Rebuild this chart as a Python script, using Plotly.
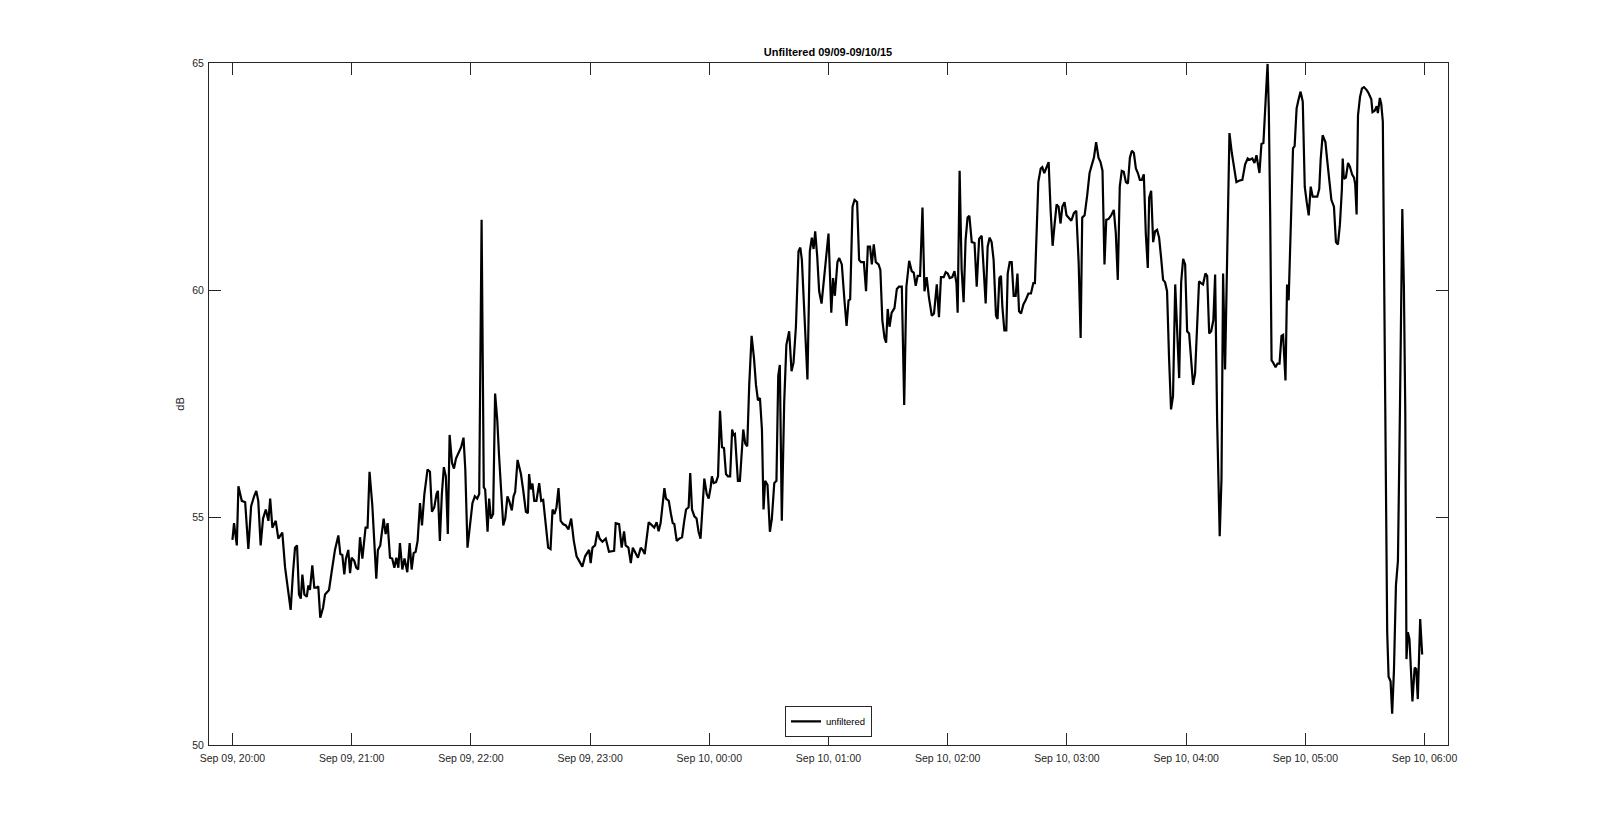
import pandas as pd
import plotly.graph_objects as go

start_time = "2015-09-09 20:00"
title_text = "Unfiltered 09/09-09/10/15"
series_name = "unfiltered"
y_ticks = [50, 55, 60, 65]

# minutes after Sep 09, 20:00
minutes = [
    0, 0.8, 2.2, 3, 4.7, 6.4, 8, 9.4, 10.9, 12, 13, 14.2, 15.4, 16.8, 18.1, 19, 20.1, 21.8, 23.1, 25.1,
    26.5, 28.2, 29.3, 30.5, 31.5, 32.5, 33.5, 34.4, 35.2, 36.2, 37.4, 38.2, 39, 40.2, 41.2, 42.4, 43.2,
    44.2, 45.6, 46.6, 48.6, 49.9, 51.6, 53.3, 54.3, 55.3, 56.3, 57.1, 58.3, 59.2, 60, 61.3, 62.3, 63.3,
    64.2, 65.4, 66.4, 67, 68, 69, 70.4, 71.4, 72.4, 73.2, 74.4, 76.1, 77.1, 78.1, 79.3, 80.4, 81.5, 82.5,
    83.5, 84.3, 85.5, 86.6, 88, 89.2, 90.2, 91.2, 92.2,
    93.2, 94.4, 95.4, 96.6, 98.2, 99.4, 100.4, 101.6, 102.7, 103.4, 104.4, 105.4, 106.4, 107.4, 108.4,
    109.3, 110.5, 111.5, 112.5, 114.1, 115.1, 116.3, 117.2, 118.3, 119.5, 120.8, 122, 123.2, 124.2,
    125.4, 126.5, 127.2, 128.4, 129.2, 130.1, 131.2, 132.2, 133.3, 134.2, 135.1, 136.3, 137.3, 138.4,
    139.3, 140.6, 141.5, 142.3, 143.5, 145.2, 146.3, 147.7, 148.7, 149.3, 150.2, 151, 151.9, 153, 154.4,
    155.4, 156.4, 157.7, 158.9, 160.1, 161.1, 162.1, 163.1, 164.1, 165.2, 166.4, 167.8, 169.1, 170.5,
    171.8, 173.2, 174.5, 176.1, 177.5, 178.7, 179.5, 180.3, 181.2, 182.5, 183.7, 184.8, 186.2, 187.9,
    189.5, 192.1, 192.9, 194.6, 195.9, 197.1, 197.9, 199.3, 200.5,
    201.5, 202.9, 204.1, 205.5, 206.5, 207.5, 209.5, 211.2, 212.3, 213.5, 214.5, 215.5, 217.4, 218.2,
    219.6, 220.7, 221.6, 222.4, 223.6, 224.9, 226.3, 227.4, 228.3, 229.6, 230.4, 231.3, 232.5, 233.6,
    234.6, 235.6, 237.5, 238.7, 239.7, 240.7, 241.3, 242.2, 243.4, 244.4, 245.4, 246.4, 247.4, 248.4,
    249.4, 250.5, 251.5, 252.2, 252.9, 254.4, 255.4, 257.1, 258.1, 259.1, 260.1, 261.3, 262.5, 263.5,
    264.5, 265.5, 266.5, 267.3, 268.1, 269.3, 270.5, 271.5, 272.7, 273.8, 274.7, 275.5, 276.5, 277.7,
    278.8, 280.2, 281.4, 282.4, 283.6, 284.9, 285.8, 286.6, 287.8, 288.6, 289.4, 290.6, 291.6, 292.5,
    293.3, 294.3, 295.3, 296.5, 297.3, 298.7, 300, 301.4, 302.3, 303.2, 304.5, 305.4,
    306.7, 308.1, 309.1, 310.1, 310.9, 312.1, 313.1, 314.4, 315.4, 316.4, 317.8, 318.9, 319.8, 320.9,
    321.8, 322.8, 323.8, 325.2, 326.1, 327.1, 328.2, 329, 329.8, 330.7, 331.8, 333.2, 334.4, 335.5,
    336.9, 338.1, 339.2, 340.6, 341.9, 342.9, 343.9, 344.9, 346.1, 347.3, 348.3, 349.4, 350.6, 352,
    353.1, 354.5, 355.6, 356.6, 358, 359, 360, 361, 362.3, 363.4, 364.4, 365, 366, 367, 368, 369, 370,
    370.9, 372.1, 373.5, 374.6, 375.8, 377.1, 378.1, 379.1, 380.1, 381.1, 382.1, 383.1, 384.3, 385.1,
    386, 386.8, 387.5, 388.5, 389.5, 390.2, 391.2, 392.2, 393.2, 394.2, 395.1, 395.9, 396.9, 398.1,
    399.2, 400.6, 401.9, 403.1, 403.9, 404.7, 405.6, 406.8, 407.6, 408.6, 409.8, 410.8,
    411.8, 412.8, 413.8, 414.8, 415.8, 416.8, 417.7, 418.8, 419.8, 420.8, 422.2, 423.5, 424.7, 425.9,
    426.9, 427.7, 428.9, 430.2, 431.4, 432.6, 433.6, 434.7, 435.9, 436.9, 437.9, 438.9, 439.8, 441,
    442.3, 443.6, 444.6, 445.6, 446.6, 447.6, 448.6, 449.7, 450.7, 451.7, 452.7, 453.7, 454.7, 455.7,
    456.7, 457.7, 458.7, 459.7, 460.7, 461.4, 462.4, 463.4, 464.4, 465.4, 466.4, 467.4, 468.4, 469.4,
    470.4, 471.4, 472.4, 473.4, 474.5, 475.5, 476.5, 477.5, 478.5, 479.5, 480.5, 481.5, 482.5, 483.5,
    484.5, 485.5, 486.5, 487.5, 488.5, 489.7, 490.6, 491.6, 492.6, 493.7, 494.6, 495.6, 496.3, 496.9,
    497.8, 498.6, 499.6, 500.6, 501.8, 503, 504, 505.3, 506.6, 508.3, 509.7, 511, 512, 513.3, 514.4,
    515.4,
    516.9, 517.9, 518.9, 519.6, 520.5, 521, 521.6, 522.3, 523, 523.8, 525, 526, 527, 528, 528.8, 530,
    530.8, 531.6, 532.6, 533.8, 534.6, 535.6, 536.6, 537.6, 538.7, 539.7, 540.7, 541.7, 542.7, 543.7,
    544.7, 546, 547, 547.7, 548.7, 550.1, 551.1, 552.1, 553.1, 554.4, 555.4, 556.4, 557.4, 558.4,
    558.8, 559.4, 560.4, 561.5, 562.5, 563.5, 564.5, 565.1, 565.8, 566.5, 567.5, 568.5, 569.5, 570.8,
    571.8, 573.2, 573.8, 574.9, 575.9, 576.5, 577.5, 578.2, 579, 580.2, 581.2, 581.9, 582.9, 583.7,
    584.6, 585.6, 586.6, 587.6, 588.8, 589.6, 590.3, 590.9, 591.6, 592.4, 593.3, 593.9, 595, 595.8,
    596.6, 597.8, 598.8,
]

db = [
    54.51, 54.88, 54.39, 55.69, 55.37, 55.34, 54.31, 55.25, 55.47, 55.59, 55.37, 54.39, 54.98, 55.18,
    54.93, 55.42, 54.78, 54.93, 54.54, 54.67, 53.90, 53.26, 52.97, 53.80, 54.34, 54.39, 53.31, 53.22,
    53.75, 53.31, 53.26, 53.51, 53.41, 53.95, 53.46, 53.46, 53.49, 52.80, 53.02, 53.31, 53.41, 53.80,
    54.29, 54.61, 54.20, 54.18, 53.75, 54.10, 54.29, 53.78, 54.12, 54.05, 53.90, 53.86, 54.57, 54.10,
    54.54, 54.78, 54.78, 56.01, 55.27, 54.39, 53.66, 54.29, 54.39, 54.98, 54.64, 54.88, 54.12, 54.10,
    53.90, 54.12, 53.90, 54.44, 53.86, 54.10, 53.80, 54.44, 53.86, 54.22, 54.25,
    54.49, 55.32, 54.83, 55.52, 56.06, 56.01, 55.13, 55.23, 55.52, 55.59, 54.49, 55.52, 56.11, 55.91,
    54.64, 56.82, 56.21, 56.08, 56.30, 56.45, 56.55, 56.76, 56.06, 54.34, 54.88, 55.32, 55.47, 55.42,
    55.52, 61.55, 55.67, 55.62, 54.69, 55.42, 54.98, 55.08, 57.73, 57.14, 56.35, 55.67, 54.83, 54.98,
    55.47, 55.37, 55.16, 55.47, 55.57, 56.27, 55.96, 55.62, 55.13, 55.10, 55.96, 55.62, 55.75, 55.37,
    55.37, 55.76, 55.37, 55.39, 54.88, 54.34, 54.31, 55.18, 55.08, 55.23, 55.65, 54.93, 54.86, 54.83,
    54.74, 54.98, 54.49, 54.15, 54.05, 53.92, 54.15, 54.22, 54.29, 54.00, 54.34, 54.39, 54.70, 54.54,
    54.47, 54.54, 54.25, 54.27, 54.88, 54.86, 54.34, 54.70, 54.39, 54.34, 54.00,
    54.34, 54.20, 54.12, 54.34, 54.29, 54.20, 54.90, 54.83, 54.78, 54.90, 54.70, 54.88, 55.65, 55.42,
    55.37, 55.08, 54.88, 54.86, 54.49, 54.54, 54.57, 54.93, 55.18, 55.23, 55.98, 55.18, 55.03, 54.98,
    54.69, 54.54, 55.86, 55.52, 55.42, 55.67, 55.91, 55.76, 55.78, 55.91, 57.35, 56.55, 56.53, 55.96,
    55.91, 55.91, 56.94, 56.82, 56.84, 55.81, 55.81, 56.94, 56.63, 56.57, 57.92, 59.00, 58.51, 57.92,
    57.58, 57.63, 56.94, 55.18, 55.81, 55.72, 54.69, 54.98, 55.76, 55.81, 58.12, 58.36, 54.93, 57.53,
    58.80, 59.10, 58.22, 58.41, 59.20, 60.86, 60.94, 60.67, 59.39, 58.90, 58.04, 60.86, 61.16, 60.91,
    61.30, 60.76, 59.98, 59.71, 60.08, 60.59, 61.25, 59.51, 60.27, 59.88, 60.62, 60.71,
    60.57, 59.74, 59.22, 59.78, 59.80, 61.84, 61.99, 61.94, 60.67, 60.62, 60.62, 59.98, 60.96, 60.96,
    60.57, 61.01, 60.62, 60.57, 60.45, 59.34, 58.95, 58.85, 59.59, 59.20, 59.51, 59.61, 60.03, 60.08,
    60.08, 57.48, 60.08, 60.65, 60.42, 60.39, 60.10, 60.32, 60.32, 61.82, 59.98, 60.29, 59.83, 59.44,
    59.49, 60.13, 59.41, 60.29, 60.29, 60.40, 60.37, 60.27, 60.29, 60.42, 60.16, 59.51, 62.63, 60.47,
    59.74, 61.11, 61.60, 61.64, 61.06, 61.04, 60.08, 61.13, 61.20, 60.47, 59.71, 60.96, 61.16, 61.06,
    60.67, 59.44, 59.37, 60.27, 60.32, 59.64, 59.12, 59.12, 60.37, 60.62, 60.62, 59.88, 59.88, 60.37,
    59.54, 59.49, 59.69, 59.78, 59.93, 59.93, 60.16, 60.16, 61.25, 62.38, 62.68, 62.71, 62.58, 62.73,
    62.82,
    61.75, 60.98, 61.45, 61.89, 61.84, 61.47, 61.84, 61.94, 61.65, 61.60, 61.53, 61.70, 61.75, 60.62,
    58.95, 61.60, 61.65, 62.09, 62.58, 62.77, 62.92, 63.26, 62.92, 62.82, 62.63, 60.57, 61.55, 61.57,
    61.65, 61.77, 61.26, 60.23, 62.28, 62.63, 62.61, 62.38, 62.35, 62.92, 63.07, 63.02, 62.68, 62.58,
    62.43, 62.43, 62.55, 61.25, 60.49, 62.04, 62.19, 61.06, 61.30, 61.33, 61.16, 60.72, 60.23, 60.18,
    59.98, 58.51, 57.38, 57.67, 60.13, 59.10, 58.07, 60.18, 60.69, 60.57, 59.10, 59.05, 58.51, 57.92,
    58.17, 59.29, 60.20, 60.16, 60.13, 60.37, 60.32, 59.05, 59.10, 59.34, 60.35, 57.14, 55.37, 54.59,
    55.86, 60.37, 58.26, 60.37, 63.46, 63.02, 62.77, 62.38, 62.41, 62.43, 62.77, 62.90, 62.87, 62.90,
    62.80, 62.97,
    62.58, 63.22, 63.24, 64.00, 64.59, 64.98, 64.00, 61.65, 58.46, 58.41, 58.31, 58.39, 58.39, 59.00,
    59.02, 58.02, 60.13, 59.78, 61.25, 63.12, 63.17, 64.00, 64.20, 64.37, 64.15, 62.28, 61.94, 61.65,
    62.28, 62.06, 62.06, 62.06, 62.23, 62.87, 63.41, 63.26, 62.82, 62.33, 61.99, 61.84, 61.06, 61.01,
    61.45, 62.23, 62.90, 62.45, 62.48, 62.80, 62.71, 62.55, 62.48, 62.33, 61.67, 63.85, 64.25, 64.44,
    64.47, 64.41, 64.34, 64.20, 63.92, 63.95, 64.05, 63.90, 64.23, 64.10, 63.71, 57.53, 52.48, 51.50,
    51.40, 50.69, 51.65, 53.51, 54.05, 57.33, 61.79, 60.08, 57.33, 51.89, 52.48, 52.33, 51.45, 50.96,
    51.70, 51.67, 51.01, 52.77, 51.99,
]

t0 = pd.Timestamp(start_time)
times = [t0 + pd.Timedelta(minutes=m) for m in minutes]
x_range = [t0 - pd.Timedelta(minutes=11.8), t0 + pd.Timedelta(minutes=611.8)]

axis_color = "#262626"
font_family = "Liberation Sans, Arial, sans-serif"

fig = go.Figure()
fig.add_trace(go.Scatter(
    x=times, y=db, mode="lines", name=series_name,
    line=dict(color="black", width=2.2),
))

fig.update_layout(
    width=1600, height=837,
    paper_bgcolor="white", plot_bgcolor="white",
    margin=dict(l=201, r=160, t=55, b=100),
    font=dict(family=font_family, size=10.5, color=axis_color),
    title=dict(text="<b>" + title_text + "</b>", x=0.5125, xanchor="center",
               y=1 - 44 / 837, yanchor="middle",
               font=dict(size=11, color="black", family=font_family)),
    showlegend=True,
    legend=dict(x=0.5, xanchor="center", y=0.012, yanchor="bottom",
                bgcolor="white", bordercolor=axis_color, borderwidth=1,
                font=dict(size=9.5, color="black"), itemwidth=30,
                tracegroupgap=0),
)

fig.update_xaxes(
    range=x_range, type="date", dtick=3600000, tick0=t0,
    tickformat="%b %d, %H:%M",
    showgrid=False, zeroline=False,
    showline=True, linecolor=axis_color, linewidth=1, mirror="ticks",
    ticks="inside", ticklen=12, tickcolor=axis_color, tickwidth=1,
    ticklabelstandoff=3,
)
fig.update_yaxes(
    range=[50, 65], tickvals=y_ticks,
    showgrid=False, zeroline=False,
    showline=True, linecolor=axis_color, linewidth=1, mirror="ticks",
    ticks="inside", ticklen=12, tickcolor=axis_color, tickwidth=1,
    ticklabelstandoff=2,
    title=dict(text="dB", standoff=5, font=dict(size=11, color=axis_color)),
)

fig.write_html("out.html")
